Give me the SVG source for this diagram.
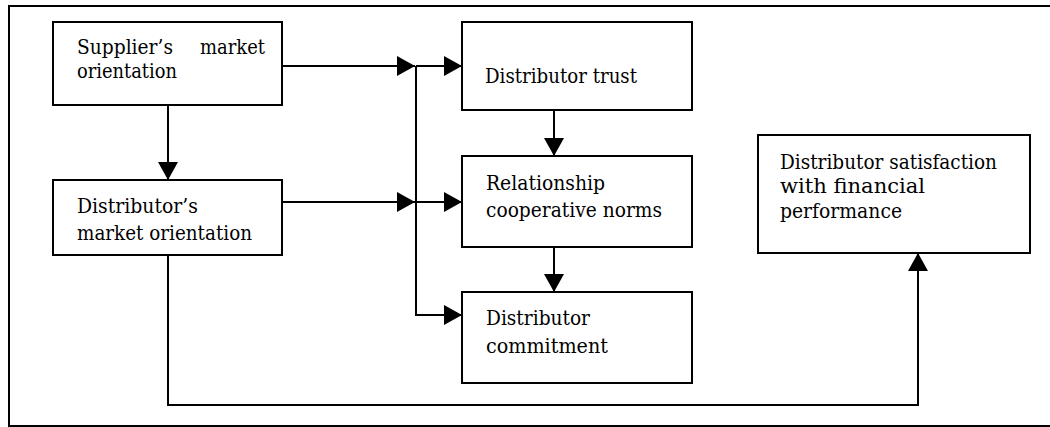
<svg xmlns="http://www.w3.org/2000/svg" width="1050" height="427" viewBox="0 0 1050 427">
  <style>
    .box { fill: #fff; stroke: #000; stroke-width: 2; }
    .lbl { font-family: "DejaVu Serif", "Liberation Serif", serif; font-size: 20px; fill: #000; }
    .wire { fill: none; stroke: #000; stroke-width: 2; }
    .frame { fill: none; stroke: #000; stroke-width: 2; }
  </style>
  <defs>
    <marker id="head" markerUnits="userSpaceOnUse" markerWidth="18" markerHeight="20" refX="18" refY="10" orient="auto">
      <path d="M0,0 L18,10 L0,20 Z" fill="#000"/>
    </marker>
  </defs>

  <!-- outer frame (right edge runs off the page) -->
  <path class="frame" d="M1050,6 H9 V426 H1050"/>

  <!-- connectors -->
  <g id="connectors">
    <path class="wire" d="M282,66 H415" marker-end="url(#head)"/>
    <path class="wire" d="M416,66 H462" marker-end="url(#head)"/>
    <path class="wire" d="M282,202 H415" marker-end="url(#head)"/>
    <path class="wire" d="M416,202 H462" marker-end="url(#head)"/>
    <path class="wire" d="M416,66 V315 H462" marker-end="url(#head)"/>
    <path class="wire" d="M168,105 V180" marker-end="url(#head)"/>
    <path class="wire" d="M554,110 V156" marker-end="url(#head)"/>
    <path class="wire" d="M554,247 V292" marker-end="url(#head)"/>
    <path class="wire" d="M168,255 V405 H918 V253" marker-end="url(#head)"/>
  </g>

  <g id="supplier-mo">
    <rect class="box" x="53" y="22" width="229" height="83"/>
    <text class="lbl" x="77" y="54" textLength="96" lengthAdjust="spacingAndGlyphs">Supplier’s</text>
    <text class="lbl" x="200" y="54" textLength="65" lengthAdjust="spacingAndGlyphs">market</text>
    <text class="lbl" x="77" y="78" textLength="100" lengthAdjust="spacingAndGlyphs">orientation</text>
  </g>

  <g id="distributor-mo">
    <rect class="box" x="53" y="180" width="229" height="75"/>
    <text class="lbl" x="77" y="213" textLength="121" lengthAdjust="spacingAndGlyphs">Distributor’s</text>
    <text class="lbl" x="77" y="240" textLength="175" lengthAdjust="spacingAndGlyphs">market orientation</text>
  </g>

  <g id="distributor-trust">
    <rect class="box" x="462" y="22" width="230" height="88"/>
    <text class="lbl" x="485" y="83" textLength="152" lengthAdjust="spacingAndGlyphs">Distributor trust</text>
  </g>

  <g id="cooperative-norms">
    <rect class="box" x="462" y="156" width="230" height="91"/>
    <text class="lbl" x="486" y="190" textLength="119" lengthAdjust="spacingAndGlyphs">Relationship</text>
    <text class="lbl" x="486" y="217" textLength="176" lengthAdjust="spacingAndGlyphs">cooperative norms</text>
  </g>

  <g id="distributor-commitment">
    <rect class="box" x="462" y="292" width="230" height="91"/>
    <text class="lbl" x="486" y="325" textLength="104" lengthAdjust="spacingAndGlyphs">Distributor</text>
    <text class="lbl" x="486" y="353" textLength="122" lengthAdjust="spacingAndGlyphs">commitment</text>
  </g>

  <g id="financial-satisfaction">
    <rect class="box" x="758" y="135" width="272" height="118"/>
    <text class="lbl" x="780" y="169" textLength="217" lengthAdjust="spacingAndGlyphs">Distributor satisfaction</text>
    <text class="lbl" x="780" y="193" textLength="145" lengthAdjust="spacingAndGlyphs">with financial</text>
    <text class="lbl" x="780" y="218" textLength="122" lengthAdjust="spacingAndGlyphs">performance</text>
  </g>
</svg>
